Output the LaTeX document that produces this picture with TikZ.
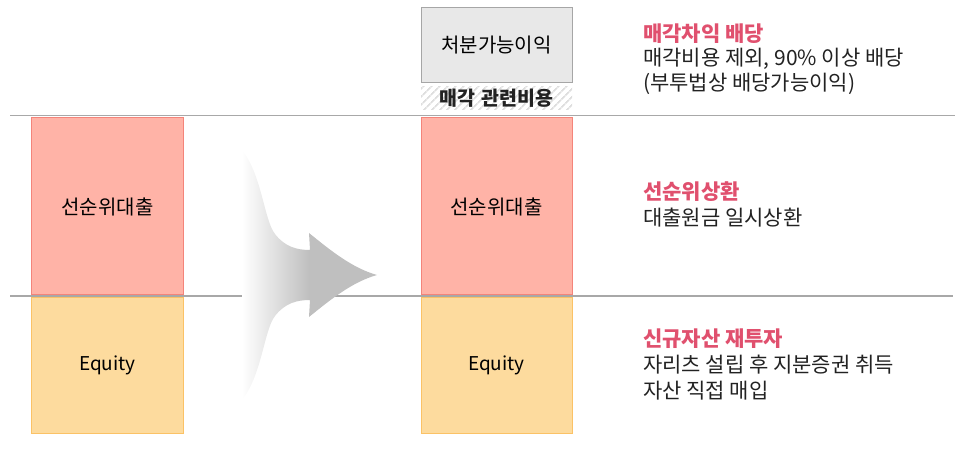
\documentclass[tikz,border=0pt]{standalone}
\usepackage{fontspec}
\setmainfont{Noto Sans CJK KR}
\usetikzlibrary{patterns.meta}
\definecolor{arrowgray}{HTML}{BFBFBF}
\definecolor{redfill}{HTML}{FFB3A7}
\definecolor{reddraw}{HTML}{F4847A}
\definecolor{yelfill}{HTML}{FDDB9E}
\definecolor{yeldraw}{HTML}{FBC266}
\definecolor{grayfill}{HTML}{E8E8E8}
\definecolor{graydraw}{HTML}{A6A6A6}
\definecolor{linegray}{HTML}{A8A8A8}
\definecolor{pinkc}{HTML}{E0506E}
\definecolor{txt}{HTML}{222222}
\definecolor{hatch}{HTML}{DEDEDE}
\pgfdeclarehorizontalshading{arrowshade}{100bp}{color(0bp)=(white); color(25bp)=(white); color(50bp)=(arrowgray); color(100bp)=(arrowgray)}
\begin{document}
\begin{tikzpicture}[x=1bp,y=-1bp,
  blockbox/.style={inner sep=0pt, line width=1bp, minimum width=151bp, font=\fontsize{20bp}{24bp}\selectfont, text=black},
  redbox/.style={blockbox, draw=reddraw, fill=redfill, minimum height=177bp},
  yelbox/.style={blockbox, draw=yeldraw, fill=yelfill, minimum height=135bp, font=\fontsize{19bp}{23bp}\selectfont},
  graybox/.style={blockbox, draw=graydraw, fill=grayfill, minimum height=75bp},
  sepline/.style={draw=linegray, line width=1.5bp},
  head/.style={anchor=west, inner sep=0pt, text=pinkc, font=\fontsize{21bp}{25bp}\selectfont\bfseries},
  body/.style={anchor=west, inner sep=0pt, text=txt, font=\fontsize{21bp}{25bp}\selectfont}]
\useasboundingbox (0,0) rectangle (978,455);
% separator lines
\draw[sepline] (10,115.5) -- (955,115.5);
\draw[sepline] (10,295.8) -- (953,295.8);
% left column
\node[redbox] (lsenior) at (107.5,206.5) {선순위대출};
\node[yelbox] (lequity) at (107.5,365.5) {Equity};
% transition arrow
\path[shading=arrowshade]
  (242,150) .. controls (262,175) and (264,220) .. (275,234)
  .. controls (285,247) and (297,250) .. (310,250)
  -- (309,233) .. controls (330,250) and (352,268) .. (377,275)
  .. controls (352,282) and (330,300) .. (309,317)
  -- (310,300) .. controls (297,300) and (285,303) .. (275,316)
  .. controls (264,330) and (262,375) .. (242,400) -- cycle;
% middle column
\node[graybox] (profit) at (496.5,45) {처분가능이익};
\path[pattern={Lines[angle=45,distance=6bp,line width=2.2bp]}, pattern color=hatch]
  (421,87) rectangle (572,110);
\node[inner sep=0pt, text=txt, font=\fontsize{19.5bp}{22bp}\selectfont\bfseries] (cost) at (496.5,98.5) {매각\hspace{0.3em}관련비용};
\node[redbox] (msenior) at (496.5,206.5) {선순위대출};
\node[yelbox] (mequity) at (496.5,365.5) {Equity};
% right texts
\node[head] (h1) at (643,34) {매각차익 배당};
\node[body] (b11) at (643,59) {매각비용 제외, 90\% 이상 배당};
\node[body] (b12) at (643,84) {(부투법상 배당가능이익)};
\node[head] (h2) at (643,192) {선순위상환};
\node[body] (b21) at (643,218) {대출원금 일시상환};
\node[head] (h3) at (643,339) {신규자산 재투자};
\node[body] (b31) at (643,365) {자리츠 설립 후 지분증권 취득};
\node[body] (b32) at (643,391) {자산 직접 매입};
\end{tikzpicture}
\end{document}
